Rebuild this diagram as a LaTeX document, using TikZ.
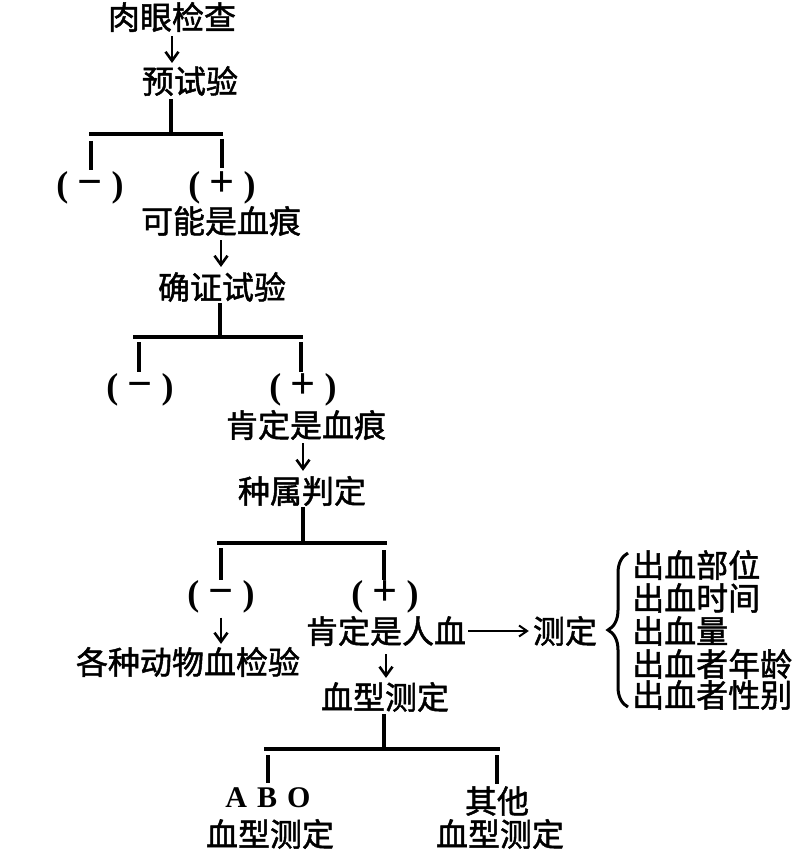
\documentclass[tikz,border=0pt]{standalone}
\usepackage{fontspec}
\setmainfont{Noto Sans CJK SC}[FakeBold=1.5]
\newfontfamily\abofont{Liberation Serif}
\usetikzlibrary{arrows.meta,decorations.pathreplacing}
\newcommand{\negsign}{{\abofont\bfseries\fontsize{36}{36}\selectfont(\hspace{9pt}{\fontsize{44}{44}\selectfont−}\hspace{9pt})}}
\newcommand{\possign}{{\abofont\bfseries\fontsize{36}{36}\selectfont(\hspace{9pt}{\fontsize{44}{44}\selectfont+}\hspace{9pt})}}
\begin{document}
\begin{tikzpicture}[x=1pt,y=-1pt,
  txt/.style={inner sep=0pt,font=\fontsize{32}{33}\selectfont},
  ln/.style={line width=3.2pt},
  arr/.style={line width=2.6pt,-{Straight Barb[length=9pt,width=13pt]}},
  harr/.style={line width=2pt,-{Straight Barb[length=8pt,width=11pt]}},
  bracestyle/.style={line width=3pt,decorate,decoration={brace,amplitude=20pt}},
]
\useasboundingbox (0,0) rectangle (793,850);

% level 0
\node[txt] (rou) at (172,17) {肉眼检查};
\node[txt] (yu) at (190,81) {预试验};
\draw[arr,shorten <=4pt,shorten >=3pt] (rou.south) -- (rou.south |- yu.north);

% level 1
\node[txt] (m1) at (90,188) {\negsign};
\node[txt] (p1) at (222,188) {\possign};
\node[txt] (kn) at (221,221) {可能是血痕};
\coordinate (j1) at (171,134);
\coordinate (j1l) at (89,134);
\coordinate (j1r) at (223,134);
\draw[ln] (yu.south -| j1) ++(0,3) -- (j1);
\draw[ln] (j1l) -- (j1r);
\draw[ln] (m1.north |- j1) ++(1,7) -- ++(0,29);
\draw[ln] (p1.north |- j1) ++(0,5) -- ++(0,29);

\node[txt] (qz) at (222,287) {确证试验};
\draw[arr,shorten <=4pt,shorten >=5pt] (kn.south) -- (kn.south |- qz.north);

% level 2
\coordinate (j2) at (220,337);
\coordinate (j2l) at (133,337);
\coordinate (j2r) at (303,337);
\draw[ln] (qz.south -| j2) ++(0,1) -- (j2);
\draw[ln] (j2l) -- (j2r);
\node[txt] (m2) at (140,390) {\negsign};
\node[txt] (p2) at (303,390) {\possign};
\draw[ln] (m2.north |- j2) ++(-1,5) -- ++(0,30);
\draw[ln] (p2.north |- j2) ++(-2,5) -- ++(0,30);
\node[txt] (kd) at (306,425) {肯定是血痕};
\node[txt] (zs) at (302,491) {种属判定};
\draw[arr,shorten <=3pt,shorten >=5pt] (p2.south |- kd.south) -- (p2.south |- zs.north);

% level 3
\coordinate (j3) at (303,543);
\coordinate (j3l) at (217,543);
\coordinate (j3r) at (387,543);
\draw[ln] (zs.south -| j3) ++(0,1) -- (j3);
\draw[ln] (j3l) -- (j3r);
\node[txt] (m3) at (221,597) {\negsign};
\node[txt] (p3) at (385,597) {\possign};
\draw[ln] (m3.north |- j3) ++(0,5) -- ++(0,32);
\draw[ln] (p3.north |- j3) ++(-1,7) -- ++(0,30);
\node[txt] (gz) at (188,662) {各种动物血检验};
\draw[arr,shorten <=4pt,shorten >=3pt] (m3.south) -- (m3.south |- gz.north);
\node[txt] (rx) at (386,631) {肯定是人血};
\node[txt] (cd) at (565,631) {测定};
\draw[harr,shorten <=2pt,shorten >=4pt] (rx.east) -- (cd.west);

% list
\node[txt,anchor=west] (l1) at (632,565) {出血部位};
\node[txt,anchor=west] (l2) at (632,598) {出血时间};
\node[txt,anchor=west] (l3) at (632,631) {出血量};
\node[txt,anchor=west] (l4) at (632,664) {出血者年龄};
\node[txt,anchor=west] (l5) at (632,695) {出血者性别};
\coordinate (bt) at (628,553);
\coordinate (bb) at (628,707);
\draw[bracestyle] (bb) -- (bt);

% level 4
\node[txt] (gx) at (385,697) {血型测定};
\draw[arr,shorten <=8pt,shorten >=4pt] (rx.south) -- (rx.south |- gx.north);
\coordinate (j4) at (384,749);
\coordinate (j4l) at (264,749);
\coordinate (j4r) at (500,749);
\draw[ln] (gx.south -| j4) ++(0,2) -- (j4);
\draw[ln] (j4l) -- (j4r);
\node[inner sep=0pt,font=\abofont\bfseries\fontsize{30}{30}\selectfont] (abo) at (268,798) {A\hspace{10pt}B\hspace{10pt}O};
\node[txt] (ab2) at (270,834) {血型测定};
\node[txt] (qt) at (497,801) {其他};
\node[txt] (qt2) at (500,834) {血型测定};
\draw[ln] (abo.north |- j4) ++(0,6) -- ++(0,28);
\draw[ln] (qt.north |- j4) ++(0,6) -- ++(0,29);
\end{tikzpicture}
\end{document}
